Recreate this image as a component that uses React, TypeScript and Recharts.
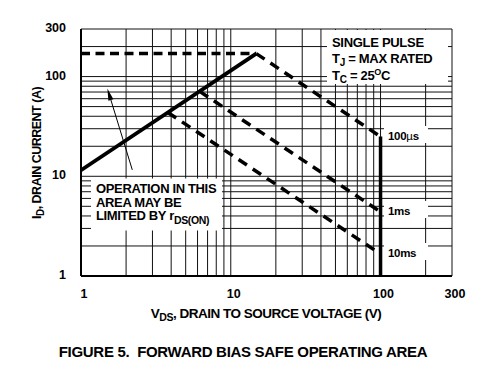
import { CartesianGrid, Line, LineChart, ReferenceLine, XAxis, YAxis } from "recharts";

// log grid: 1..10, 20..100, 200, 300
const gridTicks = [1, 2, 3, 4, 5, 6, 7, 8, 9, 10, 20, 30, 40, 50, 60, 70, 80, 90, 100, 200, 300];
const xLabels = [1, 10, 100, 300];
const yLabels = [1, 10, 100, 300];

// rDS(ON) limit
const rdsVds = [1, 14.8];
const rdsId = [11.5, 170];
// current limit
const limitVds = [1, 14.8];
const limitId = [170, 170];
// pulse lines
const us100Vds = [14.8, 100];
const us100Id = [170, 25];
const ms1Vds = [6.2, 100];
const ms1Id = [71, 4.4];
const ms10Vds = [3.8, 100];
const ms10Id = [43.7, 1.66];
// BVDSS limit
const bvVds = [100, 100];
const bvId = [25, 1];

// arrow annotation (tail -> tip)
const arrowVds = [2.2, 1.5];
const arrowId = [11.6, 76];

const zip = (v: number[], i: number[]) => v.map((x, k) => ({ v: x, i: i[k] }));

const FONT = "'Liberation Sans', Arial, sans-serif";

function XTick({ x, y, payload }: any) {
  if (!xLabels.includes(payload.value)) return <g />;
  return (
    <text x={x + 3} y={y + 14} textAnchor="middle" fontFamily={FONT} fontWeight="bold" fontSize={12.5} fill="#000">
      {payload.value}
    </text>
  );
}

function YTick({ x, y, payload }: any) {
  if (!yLabels.includes(payload.value)) return <g />;
  return (
    <text x={x - 7} y={y + 3} textAnchor="end" fontFamily={FONT} fontWeight="bold" fontSize={12.5} fill="#000">
      {payload.value}
    </text>
  );
}

function Arrow(props: any) {
  const { x1, y1, x2, y2 } = props;
  const ang = Math.atan2(y2 - y1, x2 - x1);
  const len = 12;
  const w = 2.6;
  const bx = x2 - len * Math.cos(ang);
  const by = y2 - len * Math.sin(ang);
  const px = -Math.sin(ang) * w;
  const py = Math.cos(ang) * w;
  return (
    <g>
      <line x1={x1} y1={y1} x2={bx} y2={by} stroke="#000" strokeWidth={1} />
      <polygon points={`${x2},${y2} ${bx + px},${by + py} ${bx - px},${by - py}`} fill="#000" />
    </g>
  );
}

const dashed = { stroke: "#000", strokeWidth: 3.5, strokeDasharray: "10 7", dot: false, isAnimationActive: false, type: "linear" as const };

export default function App() {
  return (
    <div style={{ position: "absolute", left: 0, top: 0, width: 485, height: 377, background: "#fff" }}>
      <LineChart width={485} height={377} margin={{ top: 29, right: 33, bottom: 71, left: 41 }}>
        <CartesianGrid stroke="#111" strokeWidth={1} />
        <XAxis
          type="number"
          dataKey="v"
          scale="log"
          domain={[1, 300]}
          ticks={gridTicks}
          interval={0}
          allowDataOverflow
          axisLine={false}
          tickLine={false}
          tick={<XTick />}
          height={30}
        />
        <YAxis
          type="number"
          dataKey="i"
          scale="log"
          domain={[1, 300]}
          ticks={gridTicks}
          interval={0}
          allowDataOverflow
          axisLine={false}
          tickLine={false}
          tick={<YTick />}
          width={40}
        />
        <ReferenceLine x={1} stroke="#000" strokeWidth={2} />
        <ReferenceLine y={1} stroke="#000" strokeWidth={2} />
        <Line data={zip(limitVds, limitId)} dataKey="i" {...dashed} strokeDasharray="9 5.5" strokeWidth={3.5} />
        <Line data={zip(us100Vds, us100Id)} dataKey="i" {...dashed} />
        <Line data={zip(ms1Vds, ms1Id)} dataKey="i" {...dashed} />
        <Line data={zip(ms10Vds, ms10Id)} dataKey="i" {...dashed} />
        <Line data={zip(rdsVds, rdsId)} dataKey="i" stroke="#000" strokeWidth={3.8} dot={false} isAnimationActive={false} type="linear" />
        <Line data={zip(bvVds, bvId)} dataKey="i" stroke="#000" strokeWidth={3.5} dot={false} isAnimationActive={false} type="linear" />
        <ReferenceLine
          segment={[
            { x: arrowVds[0], y: arrowId[0] },
            { x: arrowVds[1], y: arrowId[1] },
          ]}
          shape={Arrow}
          ifOverflow="visible"
        />
      </LineChart>
      <svg width={485} height={377} style={{ position: "absolute", left: 0, top: 0, pointerEvents: "none" }} fontFamily={FONT} fontWeight="bold" fill="#000">
        {/* top right note */}
        <rect x={327} y={30} width={121} height={54} fill="#fff" />
        <g fontSize={13} letterSpacing={-0.3}>
          <text x={332} y={47}>SINGLE PULSE</text>
          <text x={332} y={63}>
            T<tspan fontSize={10} dy={3}>J</tspan>
            <tspan dy={-3}> = MAX RATED</tspan>
          </text>
          <text x={332} y={80}>
            T<tspan fontSize={10} dy={3}>C</tspan>
            <tspan dy={-3}> = 25</tspan>
            <tspan fontSize={9} dy={-5}>O</tspan>
            <tspan dy={5}>C</tspan>
          </text>
        </g>
        {/* rds(on) note */}
        <rect x={91} y={178.5} width={131} height={52} fill="#fff" />
        <g fontSize={13} letterSpacing={-0.35}>
          <text x={96} y={193}>OPERATION IN THIS</text>
          <text x={96} y={206.5}>AREA MAY BE</text>
          <text x={96} y={220}>
            LIMITED BY r<tspan fontSize={10.5} dy={4}>DS(ON)</tspan>
          </text>
        </g>
        {/* pulse labels */}
        <g fontSize={11.5} letterSpacing={-0.3}>
          <rect x={384} y={126} width={44} height={17} fill="#fff" />
          <text x={388} y={139.5}>100<tspan fontWeight="normal">µ</tspan>s</text>
          <rect x={384} y={201} width={44} height={17} fill="#fff" />
          <text x={388} y={214.5}>1ms</text>
          <rect x={384} y={243} width={44} height={17} fill="#fff" />
          <text x={388} y={256.5}>10ms</text>
        </g>
        {/* axis titles */}
        <text x={266} y={318} textAnchor="middle" fontSize={13.5} letterSpacing={-0.5}>
          V<tspan fontSize={10.5} dy={3}>DS</tspan>
          <tspan dy={-3}>, DRAIN TO SOURCE VOLTAGE (V)</tspan>
        </text>
        <text x={0} y={0} transform="translate(41,153) rotate(-90)" textAnchor="middle" fontSize={12.5} letterSpacing={-0.5}>
          I<tspan fontSize={10} dy={3}>D</tspan>
          <tspan dy={-3}>, DRAIN CURRENT (A)</tspan>
        </text>
        <text x={243} y={357} textAnchor="middle" fontSize={15} letterSpacing={-0.3}>
          FIGURE 5.{"\u00a0\u00a0"}FORWARD BIAS SAFE OPERATING AREA
        </text>
      </svg>
    </div>
  );
}
